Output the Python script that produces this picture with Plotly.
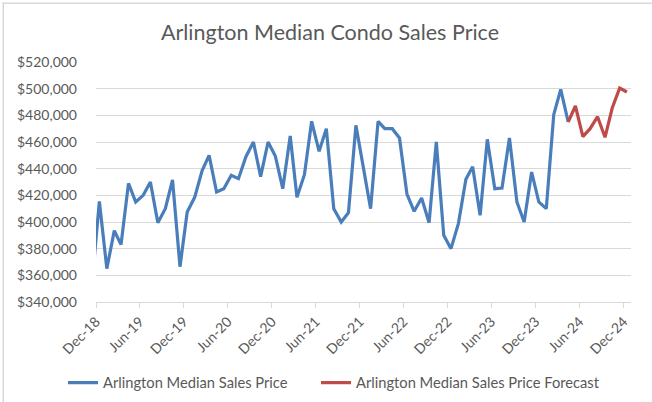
import plotly.graph_objects as go
import pandas as pd

# Monthly actual median sales price (mid-month points), Nov-2018 .. Apr-2024
actual_start = "2018-11"
actual_values = [
    355, 415.5, 365, 393.5, 383, 429, 415, 420, 430, 399.5, 410, 431.5,
    366.5, 407.5, 418.5, 438.5, 450, 422.5, 425, 435, 432.5, 449, 460, 434,
    460, 449.5, 425, 464.5, 418.5, 435.5, 475.5, 453, 470, 410, 400, 407,
    472.5, 442, 410, 475.5, 470, 470, 463, 421, 408, 418, 399.5, 460,
    390, 380, 399, 432, 441.5, 405, 462, 425, 425.5, 463, 415, 400,
    437.5, 415, 410, 480.5, 499.5, 475,
]
# Forecast, Apr-2024 .. Dec-2024
forecast_start = "2024-04"
forecast_values = [475, 487, 464, 470, 479, 463.5, 485.5, 500.5, 497.5]

tick_labels = ["Dec-18", "Jun-19", "Dec-19", "Jun-20", "Dec-20", "Jun-21", "Dec-21",
               "Jun-22", "Dec-22", "Jun-23", "Dec-23", "Jun-24", "Dec-24"]
tick_dates = pd.date_range("2018-12-01", periods=len(tick_labels), freq="6MS")

def mid_month(start, n):
    return pd.date_range(start + "-01", periods=n, freq="MS") + pd.Timedelta(days=14)

x_act = mid_month(actual_start, len(actual_values))
x_fc = mid_month(forecast_start, len(forecast_values))

BLUE = "#4A7EBB"
RED = "#BE4B48"
TXT = "#595959"
FONT = "Lato"

L, R, T, B = 96, 21, 62, 100
W, H = 652, 402
pw, ph = W - L - R, H - T - B

def px_x(p):
    return (p - L) / pw

def px_y(p):
    return (H - B - p) / ph

fig = go.Figure()
fig.add_trace(go.Scatter(x=x_act, y=[v * 1000 for v in actual_values], mode="lines",
                         name="Arlington Median Sales Price",
                         line=dict(color=BLUE, width=3.2), legend="legend"))
fig.add_trace(go.Scatter(x=x_fc, y=[v * 1000 for v in forecast_values], mode="lines",
                         name="Arlington Median Sales Price Forecast",
                         line=dict(color=RED, width=3.2), legend="legend2"))

leg_common = dict(orientation="h", xanchor="left", yanchor="middle",
                  font=dict(size=14.7, color=TXT, family=FONT), itemwidth=30,
                  bgcolor="rgba(0,0,0,0)")

fig.update_layout(
    width=W, height=H,
    margin=dict(l=L, r=R, t=T, b=B, autoexpand=False),
    paper_bgcolor="white", plot_bgcolor="white",
    font=dict(family=FONT, color=TXT, size=14),
    title=dict(text="Arlington Median Condo Sales Price", x=(330 / W), xanchor="center",
               y=1 - 32 / H, yanchor="middle", yref="container",
               font=dict(size=21.5, color=TXT, family=FONT)),
    showlegend=True,
    legend=dict(x=px_x(63), y=px_y(383), **leg_common),
    legend2=dict(x=px_x(316), y=px_y(383), **leg_common),
    xaxis=dict(type="date", range=["2018-12-01", "2025-01-01"],
               tickvals=tick_dates, ticktext=tick_labels, tickangle=-45,
               showgrid=False, showline=True, linecolor="#D9D9D9", linewidth=1,
               ticks="outside", ticklen=5, tickcolor="#D9D9D9",
               tickfont=dict(size=14, color=TXT), zeroline=False),
    yaxis=dict(range=[340000, 520000], dtick=20000, tickformat="$,.0f",
               showgrid=True, gridcolor="#D9D9D9", gridwidth=1,
               showline=False, zeroline=False, ticks="", ticklabelstandoff=18,
               tickfont=dict(size=14, color=TXT)),
)

# chart area border (light gray) visible on the left and top edges
fig.add_shape(type="rect", xref="paper", yref="paper",
              x0=px_x(2.5), x1=px_x(4), y0=px_y(H), y1=px_y(2.5),
              line=dict(width=0), fillcolor="#D9D9D9", layer="above")
fig.add_shape(type="rect", xref="paper", yref="paper",
              x0=px_x(2.5), x1=px_x(W), y0=px_y(4), y1=px_y(2.5),
              line=dict(width=0), fillcolor="#D9D9D9", layer="above")

fig.write_html("out.html", config={"displayModeBar": False},
               post_script="document.body.style.margin='0';")
